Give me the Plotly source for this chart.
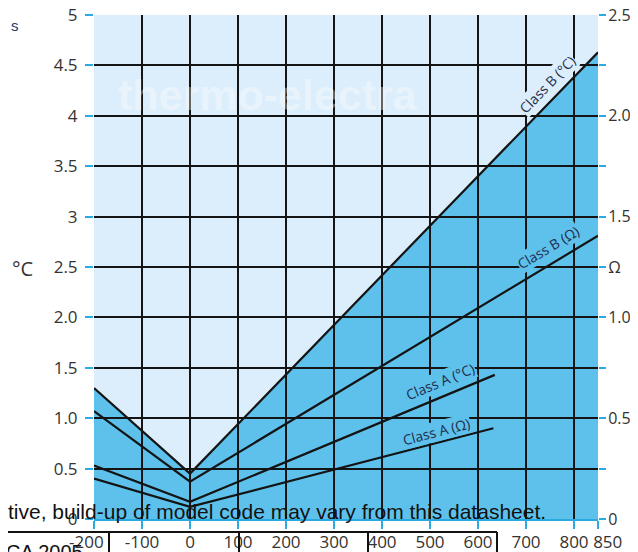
import plotly.graph_objects as go

# ---- data ----
temp_b = [-200, 0, 850]
class_b_c = [1.30, 0.45, 4.63]          # Class B tolerance, °C
class_b_ohm = [0.535, 0.185, 1.405]     # Class B tolerance, Ω
temp_a_c = [-200, 0, 635]
class_a_c = [0.53, 0.17, 1.43]          # Class A tolerance, °C
temp_a_ohm = [-200, 0, 632]
class_a_ohm = [0.20, 0.06, 0.45]        # Class A tolerance, Ω

x_ticks = [-200, -100, 0, 100, 200, 300, 400, 500, 600, 700, 800, 850]
HID = "<span style='color:rgba(0,0,0,0)'>{}</span>"
x_labels = ["-200" + HID.format("0-"), "-100", "0", "100", "200", "300", "400", "500",
            "600", "700", "800", HID.format("00") + "850"]
yl_ticks = [0, 0.5, 1, 1.5, 2, 2.5, 3, 3.5, 4, 4.5, 5]
yl_labels = ["0", "0.5", "1.0", "1.5", "2.0", "2.5", "3", "3.5", "4", "4.5", "5"]
yr_ticks = [0, 0.25, 0.5, 0.75, 1.0, 1.25, 1.5, 1.75, 2.0, 2.25, 2.5]
yr_labels = ["0", "", "0.5", "", "1.0", "Ω", "1.5", "", "2.0", "", "2.5"]

# ---- style ----
LIGHT = "#DCEEFB"
MED = "#5EC1EC"
GRID = "#141414"
TICK = "#29ABE2"
TXT = "#333333"
LBL = "#1F2D4A"
FONT = "Open Sans"

OFF = 8  # page offset of the figure (body margin)
W, H = 638 - OFF, 552 - OFF
PLOT_L, PLOT_R, PLOT_T, PLOT_B = 94, 598, 15, 519   # page pixels of the plot area
ML, MT = PLOT_L - OFF, PLOT_T - OFF
MR, MB = W - (PLOT_R - OFF), H - (PLOT_B - OFF)
PW, PH = W - ML - MR, H - MT - MB


def px(x):  # page pixel -> paper x
    return (x - PLOT_L) / PW


def py(y):  # page pixel -> paper y
    return (PLOT_B - y) / PH


fig = go.Figure()

# filled area under Class B (°C) - base subplot, below the grid of subplot 2
fig.add_trace(go.Scatter(x=temp_b, y=class_b_c, mode="lines", fill="tozeroy",
                         fillcolor=MED, line=dict(width=0, color=MED),
                         xaxis="x", yaxis="y", hoverinfo="skip", showlegend=False))

line_style = dict(color=GRID, width=2.2)
fig.add_trace(go.Scatter(x=temp_b, y=class_b_c, mode="lines", line=line_style,
                         xaxis="x2", yaxis="y2", showlegend=False))
fig.add_trace(go.Scatter(x=temp_a_c, y=class_a_c, mode="lines", line=line_style,
                         xaxis="x2", yaxis="y2", showlegend=False))
fig.add_trace(go.Scatter(x=temp_b, y=class_b_ohm, mode="lines", line=line_style,
                         xaxis="x2", yaxis="y3", showlegend=False))
fig.add_trace(go.Scatter(x=temp_a_ohm, y=class_a_ohm, mode="lines", line=line_style,
                         xaxis="x2", yaxis="y3", showlegend=False))

tickfont = dict(family=FONT, size=17, color=TXT)

fig.update_layout(
    width=W, height=H,
    margin=dict(l=ML, r=MR, t=MT, b=MB, pad=0, autoexpand=False),
    paper_bgcolor="white", plot_bgcolor="rgba(0,0,0,0)",
    showlegend=False,
    xaxis=dict(domain=[0, 1], range=[-200, 850], visible=False, fixedrange=True,
               automargin=False),
    yaxis=dict(domain=[0, 1], range=[0, 5], visible=False, fixedrange=True,
               automargin=False),
    xaxis2=dict(domain=[0, 1], anchor="y2", range=[-200, 850],
                tickmode="array", tickvals=x_ticks, ticktext=x_labels, tickangle=0,
                showgrid=True, gridcolor=GRID, gridwidth=1.5, zeroline=False,
                ticks="outside", ticklen=8, tickwidth=2, tickcolor=TICK,
                showline=True, linecolor=TICK, linewidth=2, ticklabelstandoff=-1,
                tickfont=tickfont, automargin=False, ticklabeloverflow="allow"),
    yaxis2=dict(domain=[0, 1], anchor="x2", range=[0, 5],
                tickmode="array", tickvals=yl_ticks, ticktext=yl_labels,
                showgrid=True, gridcolor=GRID, gridwidth=1.5, zeroline=False,
                ticks="outside", ticklen=8, tickwidth=2, tickcolor=TICK,
                showline=False, ticklabelstandoff=4,
                tickfont=tickfont, automargin=False, ticklabeloverflow="allow"),
    yaxis3=dict(overlaying="y2", anchor="x2", side="right", range=[0, 2.5],
                tickmode="array", tickvals=yr_ticks, ticktext=yr_labels,
                showgrid=False, zeroline=False,
                ticks="outside", ticklen=7, tickwidth=2, tickcolor=TICK,
                showline=False, ticklabelstandoff=-1,
                tickfont=dict(family=FONT, size=16, color=TXT),
                automargin=False, ticklabeloverflow="allow"),
)

# light plot background (below everything)
fig.add_shape(type="rect", xref="paper", yref="paper", x0=0, x1=1, y0=0, y1=1,
              fillcolor=LIGHT, line=dict(width=0), layer="below")

# line labels
labels = [
    ("Class B (°C)", 744, 4.31, -45.8, LIGHT),
    ("Class B (Ω)", 746, 2.69, -31.0, MED),
    ("Class A (°C)", 521, 1.36, -22.6, MED),
    ("Class A (Ω)", 513, 0.87, -14.5, MED),
]
for txt, lx, ly, ang, bg in labels:
    fig.add_annotation(x=lx, y=ly, xref="x2", yref="y2", text=txt, showarrow=False,
                       textangle=ang, bgcolor=bg, borderpad=0,
                       xanchor="center", yanchor="middle",
                       font=dict(family=FONT, size=14, color=LBL))

# axis unit label
fig.add_annotation(x=px(22), y=py(268), xref="paper", yref="paper", text="°C",
                   showarrow=False, xanchor="center", yanchor="middle",
                   font=dict(family=FONT, size=20, color=TXT))

# watermark
fig.add_annotation(x=px(268), y=py(95), xref="paper", yref="paper",
                   text="<b>thermo-electra</b>", showarrow=False,
                   xanchor="center", yanchor="middle",
                   font=dict(family="Liberation Sans", size=43, color="rgba(255,255,255,0.35)"))

# surrounding datasheet fragments
fig.add_annotation(x=px(548), y=py(511), xref="paper", yref="paper",
                   xanchor="right", yanchor="middle",
                   text="tive, build-up of model code may vary from this datasheet.",
                   showarrow=False, font=dict(family="Liberation Sans", size=21, color="#111111"))
fig.add_annotation(x=px(4), y=py(552), xref="paper", yref="paper",
                   xanchor="left", yanchor="middle",
                   text="CA 2005", showarrow=False,
                   font=dict(family="Liberation Sans", size=20, color="#111111"))
fig.add_annotation(x=px(9), y=py(25), xref="paper", yref="paper",
                   xanchor="left", yanchor="middle",
                   text="s", showarrow=False,
                   font=dict(family="Liberation Sans", size=15, color="#1a3a6a"))

fig.add_shape(type="line", xref="paper", yref="paper", x0=px(0), x1=px(497),
              y0=py(532), y1=py(532), line=dict(color="#111111", width=2))
for vx in [109, 239, 368, 497]:
    fig.add_shape(type="line", xref="paper", yref="paper", x0=px(vx), x1=px(vx),
                  y0=py(532), y1=py(560), line=dict(color="#111111", width=2))

fig.write_html("out.html")
